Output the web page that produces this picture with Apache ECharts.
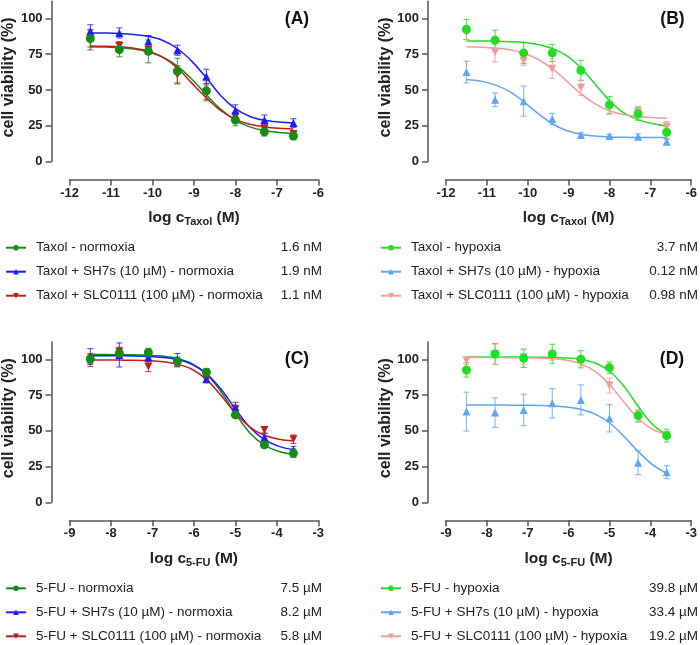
<!DOCTYPE html>
<html>
<head>
<meta charset="utf-8">
<script src="https://cdn.jsdelivr.net/npm/echarts@6/dist/echarts.min.js"></script>
<style>
html,body{margin:0;padding:0;background:#fff;}
#chart{width:700px;height:645px;}
</style>
</head>
<body>
<div id="chart"></div>
<script>
// ---- x positions (log concentration, M) ----
const taxolX = [-11.5, -10.8, -10.1, -9.4, -8.7, -8.0, -7.3, -6.6];
const fuX = [-8.5, -7.8, -7.1, -6.4, -5.7, -5.0, -4.3, -3.6];
const taxolCurveX = [-11.5, -11.15, -10.8, -10.45, -10.1, -9.75, -9.4, -9.05, -8.7, -8.35, -8.0, -7.65, -7.3, -6.95, -6.6];
const fuCurveX = [-8.5, -8.15, -7.8, -7.45, -7.1, -6.75, -6.4, -6.05, -5.7, -5.35, -5.0, -4.65, -4.3, -3.95, -3.6];

// ---- tick labels ----
const yTicks = [0, 25, 50, 75, 100];

// ---- Panel A : Taxol normoxia ----
const aNormMean = [86.0, 78.2, 77.0, 63.2, 49.4, 29.0, 20.8, 17.8];
const aNormErr = [6, 5, 8, 9, 7, 4, 3, 2.5];
const aNormCurve = [80.3, 80.0, 79.5, 78.6, 76.6, 73.0, 66.7, 57.5, 46.6, 36.4, 28.8, 24.2, 21.6, 20.3, 19.6];
const aSH7Mean = [91.1, 89.9, 84.1, 77.8, 59.5, 35.6, 29.0, 26.9];
const aSH7Err = [4.5, 3.5, 4, 3.5, 5, 4, 3.5, 3];
const aSH7Curve = [89.9, 89.8, 89.5, 88.8, 87.5, 84.6, 79.0, 70.0, 58.5, 46.0, 36.9, 31.5, 28.8, 27.6, 27.0];
const aSLCMean = [85.0, 80.8, 78.0, 60.9, 48.5, 31.4, 23.2, 19.2];
const aSLCErr = [7, 3, 3, 6, 5, 3, 2, 2];
const aSLCCurve = [80.8, 80.6, 80.2, 79.2, 77.1, 72.8, 65.4, 54.8, 44.5, 35.5, 29.5, 26.0, 24.2, 23.2, 22.8];

// ---- Panel B : Taxol hypoxia ----
const bHypMean = [92.3, 84.8, 75.9, 75.9, 63.7, 39.6, 33.3, 20.4];
const bHypErr = [7, 7, 7.4, 6, 7, 5.9, 4.5, 4.7];
const bHypCurve = [84.3, 84.3, 84.1, 83.8, 83.2, 81.8, 79.0, 74.0, 65.5, 54.0, 42.5, 34.0, 29.3, 26.5, 24.7];
const bSH7Mean = [62.5, 43.1, 42.2, 29.7, 18.5, 17.8, 17.3, 13.8];
const bSH7Err = [7.6, 4.8, 10.5, 4, 1.5, 1, 2, 2];
const bSH7Curve = [57.4, 56.2, 53.6, 49.0, 41.9, 33.6, 26.4, 21.7, 19.1, 17.8, 17.2, 16.9, 16.8, 16.7, 16.7];
const bSLCMean = [90.0, 76.6, 70.3, 64.9, 51.5, 37.5, 34.4, 24.4];
const bSLCErr = [5, 7, 3, 6.8, 5.3, 4.5, 4, 3.5];
const bSLCCurve = [80.2, 79.9, 79.3, 78.1, 75.7, 71.5, 64.9, 56.3, 47.4, 40.3, 35.5, 32.8, 31.4, 30.7, 30.3];

// ---- Panel C : 5-FU normoxia ----
const cNormMean = [100.2, 104.2, 104.7, 98.6, 90.9, 61.1, 40.1, 34.3];
const cNormErr = [3, 3, 3, 3, 2.5, 2, 2, 3];
const cNormCurve = [103.3, 103.3, 103.2, 103.1, 102.8, 102.2, 100.6, 97.0, 89.8, 77.5, 62.1, 48.5, 39.9, 35.5, 33.5];
const cSH7Mean = [101.9, 103.0, 101.4, 99.5, 86.2, 66.4, 45.5, 36.6];
const cSH7Err = [5.5, 8.4, 3, 4.5, 2.5, 3.5, 3, 2.5];
const cSH7Curve = [102.5, 102.5, 102.4, 102.3, 102.0, 101.3, 99.8, 96.5, 90.0, 79.2, 65.3, 52.4, 43.8, 39.1, 36.8];
const cSLCMean = [99.5, 105.4, 94.9, 97.2, 85.5, 65.0, 50.6, 44.1];
const cSLCErr = [4.5, 3, 3.5, 2.5, 2, 3, 2.5, 3];
const cSLCCurve = [99.5, 99.5, 99.4, 99.3, 99.0, 98.3, 96.6, 93.0, 85.9, 74.8, 62.4, 52.6, 46.9, 44.1, 42.9];

// ---- Panel D : 5-FU hypoxia ----
const dHypMean = [92.5, 103.7, 100.7, 103.7, 100.0, 94.2, 60.6, 46.6];
const dHypErr = [5, 7.3, 6.5, 6.8, 6, 4, 4, 4.5];
const dHypCurve = [101.5, 101.5, 101.5, 101.5, 101.5, 101.4, 101.3, 100.9, 99.9, 97.4, 91.8, 81.3, 67.1, 54.5, 47.0];
const dSH7Mean = [63.4, 62.7, 64.6, 69.2, 71.6, 58.7, 27.7, 21.0];
const dSH7Err = [13.6, 10.3, 11, 10.2, 10.5, 9.5, 8.4, 4.5];
const dSH7Curve = [68.0, 68.0, 68.0, 67.9, 67.9, 67.7, 67.4, 66.6, 65.0, 61.6, 55.6, 46.3, 35.6, 26.4, 20.3];
const dSLCMean = [99.1, 103.5, 101.4, 101.9, 98.4, 81.6, 59.9, 47.1];
const dSLCErr = [2.5, 7, 5, 3, 3, 5.2, 4, 2];
const dSLCCurve = [101.2, 101.2, 101.2, 101.1, 101.1, 100.9, 100.4, 99.3, 96.8, 91.6, 82.4, 70.2, 58.8, 51.2, 47.2];

// ---- names & IC50 labels ----
const aNames = ['Taxol - normoxia', 'Taxol + SH7s (10 µM) - normoxia', 'Taxol + SLC0111 (100 µM) - normoxia'];
const aIC50 = ['1.6 nM', '1.9 nM', '1.1 nM'];
const bNames = ['Taxol - hypoxia', 'Taxol + SH7s (10 µM) - hypoxia', 'Taxol + SLC0111 (100 µM) - hypoxia'];
const bIC50 = ['3.7 nM', '0.12 nM', '0.98 nM'];
const cNames = ['5-FU - normoxia', '5-FU + SH7s (10 µM) - normoxia', '5-FU + SLC0111 (100 µM) - normoxia'];
const cIC50 = ['7.5 µM', '8.2 µM', '5.8 µM'];
const dNames = ['5-FU - hypoxia', '5-FU + SH7s (10 µM) - hypoxia', '5-FU + SLC0111 (100 µM) - hypoxia'];
const dIC50 = ['39.8 µM', '33.4 µM', '19.2 µM'];
const panelLetters = ['(A)', '(B)', '(C)', '(D)'];

// ---- styles ----
const FONT = 'Liberation Sans, Arial, Helvetica, sans-serif';
const normColors = ['#158c15', '#1c1cff', '#bf1f1f'];
const hypColors = ['#22dd22', '#5ea6ee', '#f59a9a'];
const SYM_DOWN = 'path://M0,0L10,0L5,10Z';
const symbols = ['circle', 'triangle', SYM_DOWN];

const ic50Map = {};
[[aNames, aIC50], [bNames, bIC50], [cNames, cIC50], [dNames, dIC50]].forEach(([n, v]) => n.forEach((nm, i) => ic50Map[nm] = v[i]));

const panels = [
  {x: taxolX, cx: taxolCurveX, names: aNames, colors: normColors,
   means: [aNormMean, aSH7Mean, aSLCMean], errs: [aNormErr, aSH7Err, aSLCErr], curves: [aNormCurve, aSH7Curve, aSLCCurve]},
  {x: taxolX, cx: taxolCurveX, names: bNames, colors: hypColors,
   means: [bHypMean, bSH7Mean, bSLCMean], errs: [bHypErr, bSH7Err, bSLCErr], curves: [bHypCurve, bSH7Curve, bSLCCurve]},
  {x: fuX, cx: fuCurveX, names: cNames, colors: normColors,
   means: [cNormMean, cSH7Mean, cSLCMean], errs: [cNormErr, cSH7Err, cSLCErr], curves: [cNormCurve, cSH7Curve, cSLCCurve]},
  {x: fuX, cx: fuCurveX, names: dNames, colors: hypColors,
   means: [dHypMean, dSH7Mean, dSLCMean], errs: [dHypErr, dSH7Err, dSLCErr], curves: [dHypCurve, dSH7Curve, dSLCCurve]}
];

const gridLayout = [
  {left: 69.3, top: 1.3, width: 249, height: 160.2},
  {left: 446, top: 1.3, width: 249, height: 160.2},
  {left: 69.3, top: 342.1, width: 249, height: 160.2},
  {left: 446, top: 342.1, width: 249, height: 160.2}
];
const xRanges = [[-12, -6], [-12, -6], [-9, -3], [-9, -3]];
const xSubs = ['Taxol', 'Taxol', '5-FU', '5-FU'];
const legendPos = [
  {left: 5, top: 240.7, nameW: 231},
  {left: 380, top: 240.7, nameW: 232},
  {left: 5, top: 581.3, nameW: 231},
  {left: 380, top: 581.3, nameW: 232}
];
const letterPos = [[297, 19], [672.5, 19], [297, 359.5], [672, 359.5]];

const axisColor = '#555';
const grid = [], xAxis = [], yAxis = [], series = [], legend = [], graphic = [];

panels.forEach((p, gi) => {
  grid.push(Object.assign({containLabel: false}, gridLayout[gi]));
  xAxis.push({
    type: 'value', gridIndex: gi, min: xRanges[gi][0], max: xRanges[gi][1], interval: 1, offset: 18,
    axisLine: {show: true, onZero: false, lineStyle: {color: axisColor, width: 1.5}},
    axisTick: {show: true, length: 6, lineStyle: {color: axisColor, width: 1.5}},
    axisLabel: {margin: 7, fontSize: 13, fontWeight: 'bold', color: '#222', fontFamily: FONT},
    splitLine: {show: false},
    name: '{a|log c}{s|' + xSubs[gi] + '}{a| (M)}',
    nameLocation: 'middle', nameGap: 29,
    nameTextStyle: {
      fontFamily: FONT, color: '#222',
      rich: {
        a: {fontSize: 15.5, fontWeight: 'bold', fontFamily: FONT, color: '#222', lineHeight: 19},
        s: {fontSize: 11, fontWeight: 'bold', fontFamily: FONT, color: '#222', lineHeight: 12, verticalAlign: 'bottom'}
      }
    }
  });
  yAxis.push({
    type: 'value', gridIndex: gi, min: 0, max: 112, offset: 18,
    axisLine: {show: true, onZero: false, lineStyle: {color: axisColor, width: 1.5}},
    axisTick: {show: true, length: 6, customValues: yTicks, lineStyle: {color: axisColor, width: 1.5}},
    axisLabel: {customValues: yTicks, margin: 9, fontSize: 13, fontWeight: 'bold', color: '#222', fontFamily: FONT},
    splitLine: {show: false},
    name: 'cell viability (%)', nameLocation: 'middle', nameGap: 33,
    nameTextStyle: {fontSize: 16, fontWeight: 'bold', color: '#222', fontFamily: FONT, padding: [0, 0, 0, 8]}
  });

  p.names.forEach((nm, k) => {
    const col = p.colors[k];
    // fitted curve (also used for legend icon)
    series.push({
      name: nm, type: 'line', xAxisIndex: gi, yAxisIndex: gi,
      data: p.cx.map((xv, i) => [xv, p.curves[k][i]]),
      symbol: symbols[k], symbolSize: 8, showSymbol: false, smooth: 0.35,
      lineStyle: {color: col, width: 1.5}, itemStyle: {color: col},
      z: 2, silent: true
    });
    // error bars
    series.push({
      name: nm + ' (SD)', type: 'custom', xAxisIndex: gi, yAxisIndex: gi,
      data: p.x.map((xv, i) => [xv, p.means[k][i] - p.errs[k][i], p.means[k][i] + p.errs[k][i]]),
      encode: {x: 0, y: [1, 2]},
      renderItem: (params, api) => {
        const xv = api.value(0);
        const lo = api.coord([xv, api.value(1)]);
        const hi = api.coord([xv, api.value(2)]);
        const w = 3;
        const st = {stroke: col, lineWidth: 1, opacity: 0.85};
        return {type: 'group', children: [
          {type: 'line', shape: {x1: hi[0], y1: hi[1], x2: lo[0], y2: lo[1]}, style: st},
          {type: 'line', shape: {x1: hi[0] - w, y1: hi[1], x2: hi[0] + w, y2: hi[1]}, style: st},
          {type: 'line', shape: {x1: lo[0] - w, y1: lo[1], x2: lo[0] + w, y2: lo[1]}, style: st}
        ]};
      },
      z: 3, silent: true
    });
    // mean points
    series.push({
      name: nm + ' (mean)', type: 'scatter', xAxisIndex: gi, yAxisIndex: gi,
      data: p.x.map((xv, i) => [xv, p.means[k][i]]),
      symbol: symbols[k], symbolSize: k === 0 ? 9 : 8, symbolKeepAspect: true,
      itemStyle: {color: col, opacity: 1},
      z: 4 + (2 - k), silent: true
    });
  });

  const lp = legendPos[gi];
  legend.push({
    data: p.names, orient: 'vertical', left: lp.left, top: lp.top,
    itemWidth: 20, itemHeight: 7, itemGap: 10, selectedMode: false, padding: 0,
    formatter: (name) => '{g|}{n|' + name + '}{v|' + ic50Map[name] + '}',
    textStyle: {
      fontFamily: FONT, fontSize: 13.5, color: '#222', lineHeight: 14,
      rich: {
        g: {width: 5, lineHeight: 14},
        n: {width: lp.nameW, fontSize: 13.5, fontFamily: FONT, color: '#222', lineHeight: 14},
        v: {width: 55, align: 'right', fontSize: 13.5, fontFamily: FONT, color: '#222', lineHeight: 14}
      }
    }
  });

  graphic.push({
    type: 'text', x: letterPos[gi][0], y: letterPos[gi][1], silent: true,
    style: {text: panelLetters[gi], fontSize: 17.5, fontWeight: 'bold', fontFamily: FONT, fill: '#111',
            align: 'center', verticalAlign: 'middle'}
  });
});

const chart = echarts.init(document.getElementById('chart'), null, {renderer: 'canvas'});
chart.setOption({
  animation: false,
  backgroundColor: '#fff',
  grid, xAxis, yAxis, series, legend, graphic
});
</script>
</body>
</html>
